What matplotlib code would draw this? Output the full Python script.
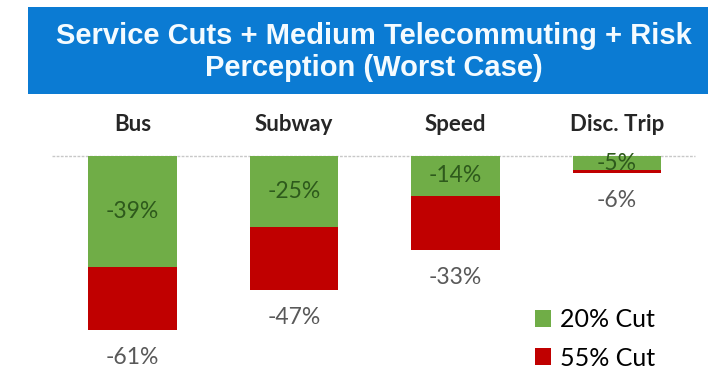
import numpy as np
import matplotlib.pyplot as plt
from matplotlib.patches import Rectangle

# ridership change by mode under each service-cut scenario (%)
modes = ['Bus', 'Subway', 'Speed', 'Disc. Trip']
cut_20 = [-39, -25, -14, -5]
cut_55 = [-61, -47, -33, -6]
series_names = ['20% Cut', '55% Cut']
title = 'Service Cuts + Medium Telecommuting + Risk\nPerception (Worst Case)'

plt.rcParams['font.family'] = ['Lato', 'DejaVu Sans']

W, H = 708, 368
fig = plt.figure(figsize=(W / 100, H / 100), dpi=100)

# title banner
fig.patches.append(Rectangle((28 / W, (H - 94) / H), 1 - 28 / W, 87 / H,
                             transform=fig.transFigure, facecolor='#0B7BD3',
                             edgecolor='none'))
fig.text(374 / W, (H - 52) / H, title, ha='center', va='center', color='#F4FBFF',
         fontsize=21, fontweight='bold', family='Liberation Sans', linespacing=1.22)

ax = fig.add_axes([52 / W, 0, (695 - 52) / W, (H - 156) / H])
x = np.arange(len(modes))
ax.set_xlim(-0.498, 3.483)
ax.set_ylim(-74.4, 0)
ax.axis('off')

# red segment stacks from the end of the green one to the 55% total
extra = np.array(cut_55) - np.array(cut_20)
green = ax.bar(x, cut_20, width=0.55, color='#70AD47', zorder=2)
red = ax.bar(x, extra, bottom=cut_20, width=0.55, color='#C00000', zorder=2)
ax.axhline(0, color='#c8c8c8', lw=1, ls=(0, (2, 1)), zorder=1, clip_on=False)

for i in range(len(modes)):
    ax.annotate(modes[i], (x[i], 0), xytext=(0, 22.5), textcoords='offset points',
                ha='center', va='center', fontsize=16, fontweight='bold',
                color='#262626', annotation_clip=False)
    ax.text(x[i], cut_20[i] / 2, f'{cut_20[i]}%', ha='center', va='center',
            fontsize=16.5, color='#2E5A1C', zorder=3)
    ax.annotate(f'{cut_55[i]}%', (x[i], cut_55[i]), xytext=(0, -20),
                textcoords='offset points', ha='center', va='center',
                fontsize=16.5, color='#595959', annotation_clip=False)

fig.legend([green, red], series_names, loc='upper left',
           bbox_to_anchor=(535 / W, (H - 308) / H), frameon=False,
           fontsize=18, handlelength=0.65, handleheight=0.65, handletextpad=0.35,
           labelspacing=0.62, borderpad=0, borderaxespad=0)

fig.savefig('out.png', dpi=100)
